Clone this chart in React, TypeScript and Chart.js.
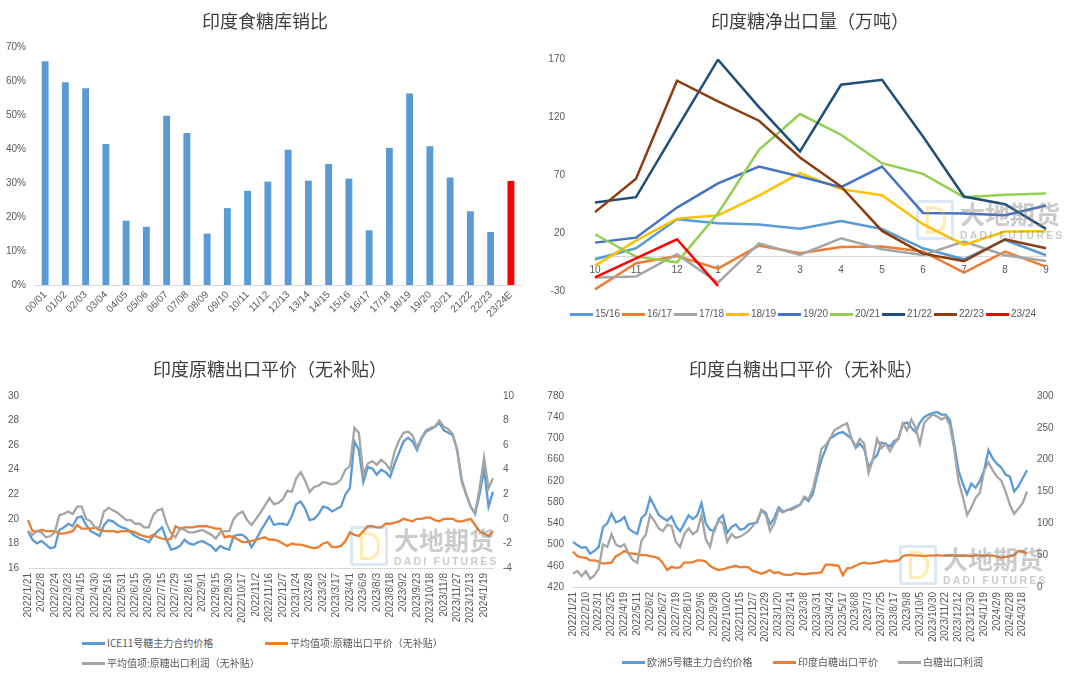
import React, { useEffect, useRef } from 'react';
import { Chart, registerables } from 'chart.js';

Chart.register(...registerables);

const LATIN = "'Liberation Sans', Arial, sans-serif";
const CJK = "'Noto Sans CJK SC', 'Noto Sans', sans-serif";
const TICK_COLOR = '#595959';
const AXIS_COLOR = '#D9D9D9';
const TITLE_COLOR = '#404040';

// ---------- 印度食糖库销比 ----------
const tlSeasons = ['00/01','01/02','02/03','03/04','04/05','05/06','06/07','07/08','08/09','09/10','10/11','11/12','12/13','13/14','14/15','15/16','16/17','17/18','18/19','19/20','20/21','21/22','22/23','23/24E'];
const tlRatio = [65.8,59.6,57.9,41.5,18.9,17.1,49.8,44.7,15.1,22.6,27.7,30.4,39.8,30.7,35.6,31.3,16.1,40.3,56.3,40.8,31.6,21.7,15.6,30.6];

// ---------- 印度糖净出口量（万吨） ----------
const trMonths = ['10','11','12','1','2','3','4','5','6','7','8','9'];
const trSeasons = ['15/16','16/17','17/18','18/19','19/20','20/21','21/22','22/23','23/24'];
const trColors = ['#5B9BD5','#ED7D31','#A5A5A5','#FFC000','#4472C4','#92D050','#1F4E79','#8B3E10','#FF0000'];
const ex1516 = [-2.7,6.8,31.9,28.4,27.3,23.7,30.4,23.4,6.8,-2.7,14,0.8];
const ex1617 = [-28.6,-6,0.2,-10.7,9.1,2.5,7.9,8.3,4,-14.2,4,-9];
const ex1718 = [-18.3,-17.6,1.7,-22.8,11.1,1.1,15.5,6,1.1,12.6,0.8,-4.2];
const ex1819 = [-8.1,13.4,32.4,35.3,52.3,71.6,57.8,52.6,27.6,9.7,21.2,21.5];
const ex1920 = [11.7,16,41.9,62.7,77.3,68.7,59.5,77.3,37.3,36.8,35.3,43.7];
const ex2021 = [18.9,-0.4,-5.3,37,91.7,122.5,104.7,80.2,71,50.9,52.9,54];
const ex2122 = [46.3,50.9,110.4,169.4,128.5,90.3,147.8,152.1,103.2,51.4,44.8,23.5];
const ex2223 = [38,66.7,151.3,133.4,116.8,85.1,60.1,21.8,2.2,-4.2,14.6,6.8];
const ex2324 = [-18.3,-1.8,14.6,-25.6,null,null,null,null,null,null,null,null];
const trValues = [ex1516, ex1617, ex1718, ex1819, ex1920, ex2021, ex2122, ex2223, ex2324];

// ---------- 印度原糖出口平价（无补贴） ----------
const blTickLabels = ['2022/1/21','2022/2/8','2022/2/24','2022/3/23','2022/4/15','2022/4/30','2022/5/16','2022/5/31','2022/6/15','2022/6/30','2022/7/15','2022/7/29','2022/8/16','2022/9/1','2022/9/15','2022/9/30','2022/10/17','2022/11/2','2022/11/16','2022/12/7','2023/1/24','2023/2/8','2023/3/2','2023/3/17','2023/4/1','2023/6/9','2023/8/3','2023/8/18','2023/9/2','2023/9/23','2023/10/18','2023/11/8','2023/11/27','2023/12/13','2024/1/19'];
const blIce = [19.0,18.3,18.0,18.2,17.9,17.6,17.7,19.1,19.3,19.6,
  19.4,20.1,20.2,19.5,19.0,18.8,18.6,19.5,19.9,19.8,
  19.5,19.3,19.2,18.9,18.6,18.4,18.3,18.1,18.6,19.0,
  19.3,18.3,17.5,17.6,17.8,18.3,18.0,17.9,18.1,18.2,
  18.0,17.8,17.4,17.8,17.6,17.5,18.6,18.7,18.7,18.4,
  17.7,18.3,19.0,19.6,20.2,19.5,19.6,19.6,19.5,20.2,
  21.2,21.4,20.8,19.9,20.0,20.4,21.0,20.9,20.6,20.8,
  21.0,22.0,22.5,26.3,25.6,23.0,24.2,24.1,23.6,24.0,
  23.8,23.4,24.5,25.4,26.3,26.6,26.3,25.6,26.5,27.1,
  27.3,27.5,27.8,27.2,27.0,26.8,25.6,23.2,22.0,21.0,
  20.4,22.0,24.0,21.0,22.2];
const blParity = [19.9,19.0,19.0,19.1,19.0,19.0,19.0,18.8,18.8,18.9,
  19.0,19.5,19.2,19.2,19.2,19.3,19.1,19.0,19.0,19.0,
  18.9,19.0,19.0,19.0,18.9,18.7,18.6,18.5,18.7,18.5,
  18.4,18.3,18.4,19.4,19.2,19.3,19.3,19.3,19.4,19.4,
  19.4,19.3,19.2,19.2,18.5,18.6,18.5,18.3,18.1,18.1,
  18.2,18.3,18.4,18.5,18.3,18.3,18.2,18.0,17.8,18.0,
  17.9,17.9,17.8,17.7,17.6,17.7,18.0,18.1,17.7,17.7,
  17.8,18.2,18.9,18.7,18.6,19.0,19.4,19.4,19.3,19.3,
  19.6,19.6,19.7,19.8,20.0,19.9,19.8,20.0,20.0,20.1,
  20.1,19.9,19.8,20.0,20.0,20.0,19.8,19.8,19.9,20.0,
  19.5,19.0,18.8,18.6,19.0];
const blProfit = [-1.0,-1.3,-1.0,-1.1,-1.5,-1.4,-1.1,0.3,0.4,0.6,
  0.4,1.0,1.0,0.0,-0.2,-0.7,-0.7,0.6,0.9,0.7,
  0.5,0.2,-0.1,-0.1,-0.4,-0.4,-0.7,-0.7,0.3,0.7,
  0.8,-0.4,-1.2,-1.5,-0.8,-0.9,-1.1,-1.1,-1.0,-0.9,
  -1.1,-1.3,-1.6,-1.1,-1.0,-1.0,0.0,0.4,0.6,-0.1,
  -0.5,0.0,0.5,1.1,1.7,1.2,1.3,1.6,2.3,2.2,
  3.3,3.8,3.1,2.2,2.6,2.7,3.0,2.9,2.8,2.9,
  3.2,4.0,4.3,7.4,7.0,3.6,4.5,4.7,4.4,4.8,
  4.5,4.0,5.5,6.4,7.0,7.1,6.8,5.8,6.6,7.2,
  7.4,7.5,8.0,7.5,7.3,6.9,5.5,3.0,2.0,1.0,
  0.5,2.5,5.0,2.5,3.3];
const blNames = ['ICE11号糖主力合约价格','平均值项:原糖出口平价（无补贴）','平均值项:原糖出口利润（无补贴）'];

// ---------- 印度白糖出口平价（无补贴） ----------
const brTickLabels = ['2022/1/21','2022/2/10','2022/3/1','2022/3/25','2022/4/19','2022/5/11','2022/6/2','2022/6/27','2022/7/19','2022/8/10','2022/9/6','2022/9/28','2022/10/20','2022/11/15','2022/12/7','2022/12/29','2023/1/20','2023/2/14','2023/3/8','2023/3/31','2023/4/24','2023/5/17','2023/6/8','2023/7/3','2023/7/25','2023/8/17','2023/9/8','2023/10/5','2023/10/30','2023/11/22','2023/12/12','2023/12/30','2024/1/19','2024/2/9','2024/2/28','2024/3/18'];
const brLondon = [505,499,494,495,483,488,495,533,540,558,
  542,545,552,530,524,520,550,558,588,572,
  556,550,545,553,535,525,540,555,548,555,
  578,540,528,525,548,555,522,533,538,528,
  530,538,540,542,565,560,538,550,570,562,
  565,568,572,575,588,582,595,630,660,680,
  700,705,710,712,706,700,682,690,680,645,
  660,668,692,690,685,695,700,728,730,720,
  712,730,740,745,748,750,745,745,735,690,
  640,615,595,615,607,620,640,678,662,652,
  645,632,628,600,610,625,640];
const brParity = [487,478,476,475,470,470,468,464,465,466,
  478,482,488,484,483,482,480,480,478,477,
  474,465,452,458,456,457,466,466,467,470,
  470,468,460,455,452,453,456,458,460,457,
  458,457,450,448,445,448,452,446,448,444,
  443,443,446,445,444,445,446,446,448,462,
  462,461,460,442,455,456,460,464,466,464,
  465,466,468,470,468,469,470,478,480,480,
  479,479,478,479,479,480,479,479,480,479,
  479,479,479,478,480,479,479,479,479,477,
  475,477,478,480,488,487,483];
const brProfit = [21,25,17,25,13,18,29,67,63,83,
  67,63,67,52,42,38,73,82,113,104,
  92,88,98,96,71,63,83,92,83,88,
  113,75,63,92,104,100,71,83,77,79,
  83,88,96,104,121,113,88,100,121,117,
  121,121,125,129,142,138,154,183,217,223,
  233,246,250,254,257,233,221,233,225,179,
  200,233,218,225,213,225,233,257,246,263,
  250,225,258,265,271,268,263,267,254,217,
  167,142,113,125,140,148,183,196,183,173,
  167,150,129,115,123,132,150];
const brNames = ['欧洲5号糖主力合约价格','印度白糖出口平价','白糖出口利润'];

const seriesColors = ['#5B9BD5', '#ED7D31', '#A5A5A5'];

const expandLabels = (ticks: string[], n: number, step: number) =>
  Array.from({ length: n }, (_, i) => (i % step === 0 && ticks[i / step] ? ticks[i / step] : ''));

const tickFont = { family: LATIN, size: 10 };
const noGrid = { display: false, drawTicks: false };

function tlConfig(): any {
  return {
    type: 'bar',
    data: {
      labels: tlSeasons,
      datasets: [{
        data: tlRatio,
        backgroundColor: tlSeasons.map((s) => (s.endsWith('E') ? '#FF0000' : '#5B9BD5')),
        barPercentage: 0.34,
        categoryPercentage: 1,
        borderWidth: 0,
      }],
    },
    options: {
      animation: false, responsive: false, events: [],
      layout: { padding: { top: 47, right: 9, bottom: 0, left: 0 } },
      plugins: { legend: { display: false }, tooltip: { enabled: false } },
      scales: {
        x: {
          grid: noGrid, border: { color: AXIS_COLOR, width: 1 },
          ticks: { font: tickFont, color: TICK_COLOR, autoSkip: false, maxRotation: 45, minRotation: 45, padding: 4 },
          afterFit: (s: any) => { s.height = 50; },
        },
        y: {
          min: 0, max: 70, grid: noGrid, border: { display: false },
          ticks: { stepSize: 10, font: tickFont, color: TICK_COLOR, padding: 9, callback: (v: any) => v + '%' },
          afterFit: (s: any) => { s.width = 35; },
        },
      },
    },
  };
}

function trConfig(): any {
  const n = trSeasons.length;
  return {
    type: 'line',
    data: {
      labels: trMonths,
      datasets: trSeasons.map((name, i) => ({
        label: name, data: trValues[i], borderColor: trColors[i], backgroundColor: trColors[i],
        borderWidth: 2.5, pointRadius: 0, tension: 0, fill: false, spanGaps: false, order: n - 1 - i,
      })),
    },
    options: {
      animation: false, responsive: false, events: [],
      layout: { padding: { top: 59, right: 34, bottom: 0, left: 0 } },
      plugins: { legend: { display: false }, tooltip: { enabled: false } },
      scales: {
        x: {
          position: { y: 0 }, offset: false, grid: noGrid, border: { color: AXIS_COLOR, width: 1 },
          ticks: { font: tickFont, color: TICK_COLOR, autoSkip: false, maxRotation: 0, padding: 8 },
        },
        y: {
          min: -30, max: 170, grid: noGrid, border: { display: false },
          ticks: { stepSize: 50, font: tickFont, color: TICK_COLOR, padding: 30 },
          afterFit: (s: any) => { s.width = 55; },
        },
      },
    },
  };
}

function dualConfig(labels: string[], values: any[][], names: string[], yl: any, yr: any, leftW: number, rightW: number, xH: number): any {
  return {
    type: 'line',
    data: {
      labels,
      datasets: values.map((d, i) => ({
        label: names[i], data: d, borderColor: seriesColors[i], backgroundColor: seriesColors[i],
        borderWidth: 2.3, pointRadius: 0, tension: 0, fill: false,
        yAxisID: i === 2 ? 'y1' : 'y', order: 2 - i,
      })),
    },
    options: {
      animation: false, responsive: false, events: [],
      layout: { padding: { top: 15, right: 0, bottom: 0, left: 0 } },
      plugins: { legend: { display: false }, tooltip: { enabled: false } },
      scales: {
        x: {
          offset: false, grid: noGrid, border: { color: AXIS_COLOR, width: 1 },
          ticks: { font: tickFont, color: TICK_COLOR, autoSkip: false, maxRotation: 90, minRotation: 90, padding: 5 },
          afterFit: (s: any) => { s.height = xH; },
        },
        y: {
          position: 'left', min: yl.min, max: yl.max, grid: noGrid, border: { display: false },
          ticks: { stepSize: yl.step, font: tickFont, color: TICK_COLOR, padding: 9 },
          afterFit: (s: any) => { s.width = leftW; },
        },
        y1: {
          position: 'right', min: yr.min, max: yr.max, grid: noGrid, border: { display: false },
          ticks: { stepSize: yr.step, font: tickFont, color: TICK_COLOR, padding: 10 },
          afterFit: (s: any) => { s.width = rightW; },
        },
      },
    },
  };
}

function ChartBox({ x, y, w, h, make }: { x: number; y: number; w: number; h: number; make: () => any }) {
  const ref = useRef<HTMLCanvasElement>(null);
  useEffect(() => {
    const chart = new Chart(ref.current as HTMLCanvasElement, make());
    return () => chart.destroy();
  }, []);
  return (
    <div style={{ position: 'absolute', left: x, top: y, width: w, height: h }}>
      <canvas ref={ref} width={w} height={h} style={{ width: w, height: h, display: 'block' }} />
    </div>
  );
}

function Title({ cx, cy, text }: { cx: number; cy: number; text: string }) {
  return (
    <div style={{ position: 'absolute', left: cx, top: cy, transform: 'translate(-50%, -50%)', whiteSpace: 'nowrap',
      font: `18px ${CJK}`, color: TITLE_COLOR }}>{text}</div>
  );
}

function LegendItem({ x, cy, color, text, font }: { x: number; cy: number; color: string; text: string; font: string }) {
  return (
    <div style={{ position: 'absolute', left: x, top: cy - 8, height: 16, display: 'flex', alignItems: 'center', whiteSpace: 'nowrap' }}>
      <span style={{ display: 'inline-block', width: 23, height: 3, background: color, marginRight: 2 }} />
      <span style={{ font, color: TICK_COLOR, lineHeight: '16px' }}>{text}</span>
    </div>
  );
}

function Watermark({ x, y }: { x: number; y: number }) {
  const c = 'rgba(130,130,130,0.42)';
  return (
    <div style={{ position: 'absolute', left: x, top: y, pointerEvents: 'none', display: 'flex', alignItems: 'flex-start' }}>
      <div style={{ width: 38, height: 40, position: 'relative', marginRight: 6 }}>
        <div style={{ position: 'absolute', left: 0, top: 0, width: 32, height: 34, border: '3px solid rgba(91,155,213,0.22)', borderRadius: 3 }} />
        <div style={{ position: 'absolute', left: 10, top: 6, width: 14, height: 22, border: '3px solid rgba(255,192,0,0.3)', borderRadius: '0 12px 12px 0' }} />
      </div>
      <div>
        <div style={{ font: `bold 25px ${CJK}`, color: c, lineHeight: '27px' }}>大地期货</div>
        <div style={{ font: `bold 10.5px ${LATIN}`, color: c, letterSpacing: 2.2, marginTop: 2 }}>DADI FUTURES</div>
      </div>
    </div>
  );
}

export default function App() {
  const blLabels = expandLabels(blTickLabels, blIce.length, 3);
  const brLabels = expandLabels(brTickLabels, brLondon.length, 3);
  const legendCjk = `10px ${CJK}`;
  return (
    <div style={{ position: 'fixed', left: 0, top: 0, width: 1080, height: 679, background: '#fff', overflow: 'hidden' }}>
      <ChartBox x={0} y={0} w={530} h={335} make={tlConfig} />
      <ChartBox x={540} y={0} w={540} h={327} make={trConfig} />
      <ChartBox x={0} y={380} w={540} h={250}
        make={() => dualConfig(blLabels, [blIce, blParity, blProfit], blNames, { min: 16, max: 30, step: 2 }, { min: -4, max: 10, step: 2 }, 28, 47, 62)} />
      <ChartBox x={540} y={380} w={540} h={272}
        make={() => dualConfig(brLabels, [brLondon, brParity, brProfit], brNames, { min: 420, max: 780, step: 40 }, { min: 0, max: 300, step: 50 }, 33, 53, 65)} />

      <Title cx={265} cy={20} text="印度食糖库销比" />
      <Title cx={810} cy={20} text="印度糖净出口量（万吨）" />
      <Title cx={270} cy={368} text="印度原糖出口平价（无补贴）" />
      <Title cx={806} cy={368} text="印度白糖出口平价（无补贴）" />

      {trSeasons.map((s, i) => (
        <LegendItem key={s} x={570 + i * 52} cy={314} color={trColors[i]} text={s} font={`10px ${LATIN}`} />
      ))}

      <LegendItem x={82} cy={643} color={seriesColors[0]} text={blNames[0]} font={legendCjk} />
      <LegendItem x={265} cy={643} color={seriesColors[1]} text={blNames[1]} font={legendCjk} />
      <LegendItem x={82} cy={663} color={seriesColors[2]} text={blNames[2]} font={legendCjk} />

      <LegendItem x={622} cy={662} color={seriesColors[0]} text={brNames[0]} font={legendCjk} />
      <LegendItem x={773} cy={662} color={seriesColors[1]} text={brNames[1]} font={legendCjk} />
      <LegendItem x={898} cy={662} color={seriesColors[2]} text={brNames[2]} font={legendCjk} />

      <Watermark x={916} y={200} />
      <Watermark x={350} y={526} />
      <Watermark x={899} y={545} />
    </div>
  );
}
